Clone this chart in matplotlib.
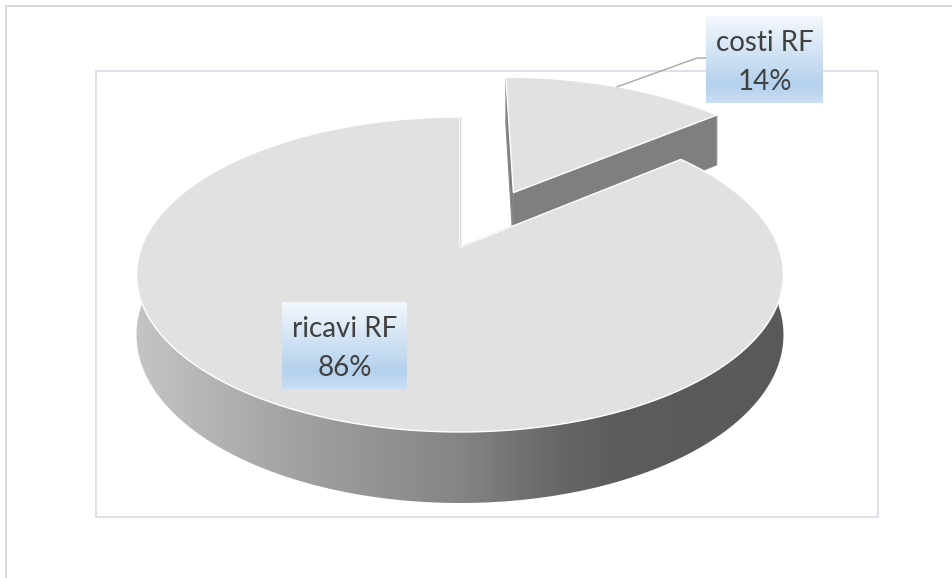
import numpy as np
import matplotlib.pyplot as plt
from matplotlib.patches import Polygon, Rectangle

plt.rcParams['font.family'] = ['Lato', 'DejaVu Sans']

# data
categories = ["costi RF", "ricavi RF"]
values = [14, 86]

# style / layout
explode = [0.42, 0.0]
label_boxes = [(706, 16, 117, 87), (282, 302, 125, 87)]   # left, top, width, height (px)
label_outside = [True, False]

W, H = 953, 578
CX, CY = 460, 247          # pie centre on screen
RX, RY = 318.5, 152.7      # radii of the top face
PERSP = 0.1746             # perspective strength
DEPTH = 58.6               # thickness of the pie

TOP = '#e1e1e1'
WALL = '#7f7f7f'
TXT = '#404040'


def proj(u, v, z=0.0):
    # u: right, v: away from viewer, z: 0 top face, 1 bottom face
    w = 1 + PERSP * v
    return CX + RX * u / w, CY - RY * v / w + z * DEPTH / w


fig = plt.figure(figsize=(W / 100, H / 100), dpi=100)
ax = fig.add_axes([0, 0, 1, 1])
ax.set_xlim(0, W)
ax.set_ylim(H, 0)
ax.axis('off')

# chart area + plot area borders
ax.plot([6, 6, W + 5], [H + 5, 6, 6], color='#d9d9d9', lw=1.4, zorder=1)
ax.add_patch(Rectangle((96, 71), 782, 446, fill=False, ec='#d9dce6', lw=1.2, zorder=1))

total = sum(values)
angles = np.concatenate([[0], np.cumsum(values)]) / total * 360
n = len(values)

info = []
for i in range(n):
    a1, a2 = angles[i], angles[i + 1]
    mid = np.radians((a1 + a2) / 2)
    du, dv = explode[i] * np.sin(mid), explode[i] * np.cos(mid)
    info.append((a1, a2, mid, du, dv))

# back slices first
order = sorted(range(n), key=lambda i: -(info[i][4] + 0.5 * np.cos(info[i][2])))

# horizontal shading for the outer wall
sx = [136, 300, 460, 560, 620, 784]
sv = [0.77, 0.63, 0.52, 0.40, 0.36, 0.35]
shade = np.interp(np.arange(W), sx, sv)
shade_img = np.repeat(shade[None, :, None], 3, axis=2)

for rank, i in enumerate(order):
    a1, a2, mid, du, dv = info[i]
    z0 = 2 + rank * 4

    # cut walls
    for a in (a1, a2):
        t = np.radians(a)
        u = np.array([du, du + np.sin(t), du + np.sin(t), du])
        v = np.array([dv, dv + np.cos(t), dv + np.cos(t), dv])
        zz = np.array([0, 0, 1, 1])
        x, y = proj(u, v, zz)
        ax.add_patch(Polygon(np.c_[x, y], closed=True, fc=WALL, ec='#8c8c8c',
                             lw=0.8, zorder=z0))

    # outer wall (front half only)
    lo, hi = max(a1, 90), min(a2, 270)
    if lo < hi:
        ts = np.radians(np.linspace(lo, hi, 300))
        u = du + np.sin(ts)
        v = dv + np.cos(ts)
        xt, yt = proj(u, v, 0)
        xb, yb = proj(u, v, 1)
        pts = np.r_[np.c_[xt, yt], np.c_[xb, yb][::-1]]
        wall = Polygon(pts, closed=True, fc='none', ec='none', zorder=z0 + 1)
        ax.add_patch(wall)
        im = ax.imshow(shade_img, extent=(0, W, H, 0), aspect='auto',
                       interpolation='bilinear', zorder=z0 + 1)
        im.set_clip_path(wall)

    # top face
    ts = np.radians(np.linspace(a1, a2, 300))
    u = np.r_[du, du + np.sin(ts)]
    v = np.r_[dv, dv + np.cos(ts)]
    x, y = proj(u, v, 0)
    ax.add_patch(Polygon(np.c_[x, y], closed=True, fc=TOP, ec='white',
                         lw=1.0, zorder=z0 + 2))

# data labels
grad_stops = [0.0, 0.8, 1.0]
grad_cols = np.array([[0.95, 0.97, 0.99], [0.71, 0.82, 0.93], [0.79, 0.87, 0.95]])
rows = np.linspace(0, 1, 100)
box_img = np.stack([np.interp(rows, grad_stops, grad_cols[:, c]) for c in range(3)], axis=1)
box_img = box_img[:, None, :]

for i in range(n):
    left, top, bw, bh = label_boxes[i]
    ax.imshow(box_img, extent=(left, left + bw, top + bh, top), aspect='auto',
              interpolation='bilinear', zorder=20)
    cx = left + bw / 2
    pct = f"{values[i] / total * 100:.0f}%"
    ax.text(cx, top + 35, categories[i], ha='center', va='baseline',
            fontsize=20, color=TXT, zorder=21)
    ax.text(cx, top + 74, pct, ha='center', va='baseline',
            fontsize=20, color=TXT, zorder=21)

    if label_outside[i]:
        a1, a2, mid, du, dv = info[i]
        x0, y0 = proj(du + np.sin(mid), dv + np.cos(mid), 0)
        ly = top + 42
        ax.plot([x0, left - 9, left], [y0, ly, ly], color='#a6a6a6', lw=1.0, zorder=19)

ax.set_xlim(0, W)
ax.set_ylim(H, 0)
fig.savefig('out.png', dpi=100, facecolor='white')
